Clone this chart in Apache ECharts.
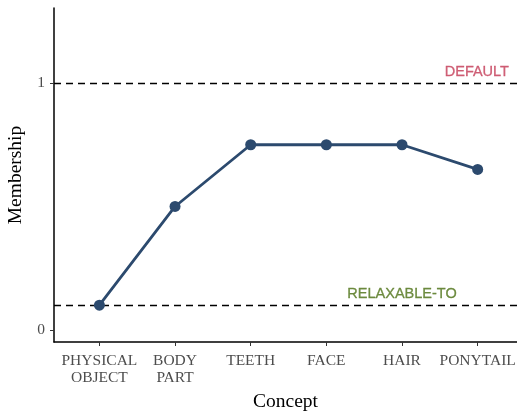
<!DOCTYPE html>
<html><head><meta charset="utf-8">
<script src="https://cdn.jsdelivr.net/npm/echarts@6/dist/echarts.min.js"></script>
<style>html,body{margin:0;padding:0;background:#fff}#c{width:517px;height:411px}</style>
</head><body><div id="c"></div>
<script>
const categories = ['PHYSICAL\nOBJECT', 'BODY\nPART', 'TEETH', 'FACE', 'HAIR', 'PONYTAIL'];
const membership = [0.1, 0.5, 0.75, 0.75, 0.75, 0.65];
const yTicks = [0, 1];
const refLines = [1, 0.1];
const refLabels = ['DEFAULT', 'RELAXABLE-TO'];
const refLabelPos = [[5.42, 1.045], [4.0, 0.146]];

const chart = echarts.init(document.getElementById('c'));
chart.setOption({
  animation: false,
  grid: { left: 54, right: 0, top: 8, bottom: 69, outerBoundsMode: 'none', containLabel: false },
  xAxis: {
    type: 'value', min: -0.6, max: 5.52, interval: 1,
    name: 'Concept', nameLocation: 'middle', nameGap: 50,
    nameTextStyle: { fontFamily: 'Liberation Serif', fontSize: 19.5, color: '#000' },
    axisLine: { show: true, onZero: false, lineStyle: { color: '#000', width: 1.5 } },
    axisTick: { show: true, length: 4, lineStyle: { color: '#333' },
      customValues: categories.map((_, i) => i) },
    axisLabel: { fontFamily: 'Liberation Serif', fontSize: 15.5, color: '#4d4d4d', lineHeight: 17, margin: 10,
      customValues: categories.map((_, i) => i),
      formatter: v => categories[Math.round(v)] ?? '' },
    splitLine: { show: false }
  },
  yAxis: {
    type: 'value', min: -0.049, max: 1.304,
    name: 'Membership', nameLocation: 'middle', nameGap: 21, nameRotate: 90,
    nameTextStyle: { fontFamily: 'Liberation Serif', fontSize: 19.5, color: '#000' },
    axisLine: { show: true, onZero: false, lineStyle: { color: '#000', width: 1.5 } },
    axisTick: { show: true, length: 4, lineStyle: { color: '#333' }, customValues: yTicks },
    axisLabel: { fontFamily: 'Liberation Serif', fontSize: 15.5, color: '#4d4d4d', margin: 9, customValues: yTicks },
    splitLine: { show: false }
  },
  series: [
    {
      type: 'line',
      data: membership.map((v, i) => [i, v]),
      lineStyle: { color: '#2c4a6e', width: 2.8 },
      itemStyle: { color: '#2c4a6e' },
      symbol: 'circle', symbolSize: 11,
      z: 5,
      markLine: {
        silent: true, symbol: 'none', animation: false,
        lineStyle: { color: '#000', type: [7, 5], width: 1.4 },
        label: { show: false },
        data: refLines.map(v => ({ yAxis: v }))
      }
    },
    {
      type: 'scatter', symbol: 'circle', symbolSize: 1, silent: true,
      itemStyle: { color: 'rgba(0,0,0,0)' },
      data: [
        { value: refLabelPos[0], label: { show: true, formatter: refLabels[0], color: '#c43c58', textBorderColor: '#c43c58', textBorderWidth: 0.3, position: 'left', distance: 0, fontFamily: 'Liberation Sans', fontSize: 14.5 } },
        { value: refLabelPos[1], label: { show: true, formatter: refLabels[1], color: '#4f7318', textBorderColor: '#4f7318', textBorderWidth: 0.3, position: 'inside', fontFamily: 'Liberation Sans', fontSize: 14.5 } }
      ]
    }
  ]
});
</script></body></html>
